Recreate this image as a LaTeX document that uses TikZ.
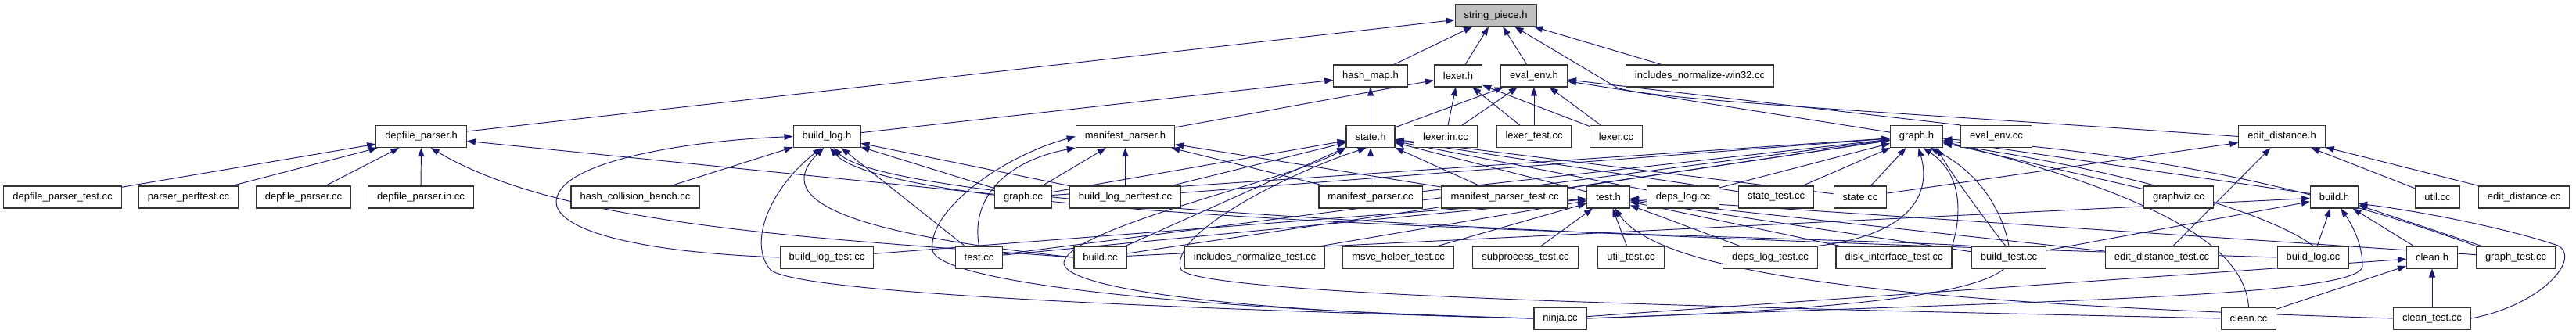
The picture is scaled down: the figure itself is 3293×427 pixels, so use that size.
\documentclass[tikz,border=0pt]{standalone}
\usepackage{fontspec}
\setmainfont{Liberation Sans}
\usetikzlibrary{arrows.meta, backgrounds}
\definecolor{incblue}{RGB}{25,25,112}
\tikzset{
  file/.style    = {rectangle, draw=black!80, line width=1.1pt, fill=white,
                    inner xsep=11.5pt, inner ysep=0pt, minimum height=28pt,
                    font=\fontsize{13}{15}\selectfont},
  rootfile/.style = {file, fill=black!25},
  inc/.style     = {-{Triangle[length=11pt,width=8pt]}, incblue, line width=0.95pt},
}

\begin{document}
\begin{tikzpicture}[x=1pt, y=-1pt]
  \useasboundingbox (0,0) rectangle (3293,427);

  \node[rootfile] (strpiece) at (1912,19.7) {string\_piece.h};

  \node[file] (hashmap)  at (1752,97) {hash\_map.h};
  \node[file] (lexerh)   at (1864,97) {lexer.h};
  \node[file] (evalenvh) at (1961,97) {eval\_env.h};
  \node[file] (incwin)   at (2173,97) {includes\_normalize-win32.cc};

  \node[file] (depparserh) at (538.5,174.5) {depfile\_parser.h};
  \node[file] (buildlogh)  at (1057,174.5)  {build\_log.h};
  \node[file] (manparserh) at (1438.5,174.5) {manifest\_parser.h};
  \node[file] (stateh)     at (1752,174.5)  {state.h};
  \node[file] (lexerin)    at (1848,174.5)  {lexer.in.cc};
  \node[file] (lexertest)  at (1961,174.5)  {lexer\_test.cc};
  \node[file] (lexercc)    at (2066,174.5)  {lexer.cc};
  \node[file] (graphh)     at (2450,174.5)  {graph.h};
  \node[file] (evalenvcc)  at (2552,174.5)  {eval\_env.cc};
  \node[file] (editdisth)  at (2917,174.5)  {edit\_distance.h};

  \node[file] (deptest)    at (80,252)    {depfile\_parser\_test.cc};
  \node[file] (parserperf) at (241,252)   {parser\_perftest.cc};
  \node[file] (depcc)      at (388,252)   {depfile\_parser.cc};
  \node[file] (depin)      at (538,252)   {depfile\_parser.in.cc};
  \node[file] (hashcoll)   at (812,252)   {hash\_collision\_bench.cc};
  \node[file] (graphcc)    at (1308,252)  {graph.cc};
  \node[file] (blperf)     at (1438.5,252) {build\_log\_perftest.cc};
  \node[file] (mancc)      at (1752,252)  {manifest\_parser.cc};
  \node[file] (mantest)    at (1923.5,252) {manifest\_parser\_test.cc};
  \node[file] (testh)      at (2056,252)  {test.h};
  \node[file] (depslogcc)  at (2151.5,252) {deps\_log.cc};
  \node[file] (statetest)  at (2270.5,252) {state\_test.cc};
  \node[file] (statecc)    at (2378,252)  {state.cc};
  \node[file] (graphviz)   at (2785,252)  {graphviz.cc};
  \node[file] (buildh)     at (2984,252)  {build.h};
  \node[file] (utilcc)     at (3116,252)  {util.cc};
  \node[file] (editdistcc) at (3226.5,252) {edit\_distance.cc};

  \node[file] (bltest)       at (1057,329)   {build\_log\_test.cc};
  \node[file] (testcc)       at (1251.5,329) {test.cc};
  \node[file] (buildcc)      at (1406.5,329) {build.cc};
  \node[file] (incnormtest)  at (1604,329)   {includes\_normalize\_test.cc};
  \node[file] (msvctest)     at (1787.5,329) {msvc\_helper\_test.cc};
  \node[file] (subproctest)  at (1950,329)   {subprocess\_test.cc};
  \node[file] (utiltest)     at (2085,329)   {util\_test.cc};
  \node[file] (depslogtest)  at (2263,329)   {deps\_log\_test.cc};
  \node[file] (disktest)     at (2421,329)   {disk\_interface\_test.cc};
  \node[file] (buildtest)    at (2568,329)   {build\_test.cc};
  \node[file] (editdisttest) at (2763.5,329) {edit\_distance\_test.cc};
  \node[file] (buildlogcc)   at (2957,329)   {build\_log.cc};
  \node[file] (cleanh)       at (3109,329)   {clean.h};
  \node[file] (graphtest)    at (3216,329)   {graph\_test.cc};

  \node[file] (ninjacc)   at (1994.5,407) {ninja.cc};
  \node[file] (cleancc)   at (2874.5,407) {clean.cc};
  \node[file] (cleantest) at (3109,407)   {clean\_test.cc};

  \begin{scope}[on background layer]
  \draw[inc] (depparserh) -- (strpiece);
  \draw[inc] (hashmap) -- (strpiece);
  \draw[inc] (lexerh) -- (strpiece);
  \draw[inc] (evalenvh) -- (strpiece);
  \draw[inc] (incwin) -- (strpiece);
  \draw[inc] (editdisth.west) .. controls (2450,145) and (2110,128) .. (2067,112) -- (strpiece);

  \draw[inc] (stateh) -- (hashmap);
  \draw[inc] (buildlogh) -- (hashmap);

  \draw[inc] (manparserh) -- (lexerh);
  \draw[inc] (lexerin) -- (lexerh);
  \draw[inc] (lexertest) -- (lexerh);
  \draw[inc] (lexercc) -- (lexerh);

  \draw[inc] (stateh) -- (evalenvh);
  \draw[inc] (lexerin) -- (evalenvh);
  \draw[inc] (lexertest) -- (evalenvh);
  \draw[inc] (lexercc) -- (evalenvh);
  \draw[inc] (graphh) -- (evalenvh);
  \draw[inc] (evalenvcc.north west) -- (evalenvh);

  \draw[inc] (deptest) -- (depparserh);
  \draw[inc] (parserperf) -- (depparserh);
  \draw[inc] (depcc) -- (depparserh);
  \draw[inc] (depin) -- (depparserh);
  \draw[inc] (graphcc) -- (depparserh);
  \draw[inc] (buildcc.west) .. controls (1050,305) and (720,290) .. (depparserh.-50);

  \draw[inc] (hashcoll) -- (buildlogh);
  \draw[inc] (blperf) -- (buildlogh);
  \draw[inc] (graphcc) -- (buildlogh);
  \draw[inc] (testcc) -- (buildlogh);
  \draw[inc] (bltest.west) .. controls (800,322) and (700,290) .. (712,252)
                           .. controls (725,205) and (880,180) .. (buildlogh.west);
  \draw[inc] (buildcc.west) .. controls (1100,300) and (980,260) .. (buildlogh.255);
  \draw[inc] (ninjacc.west) .. controls (1500,395) and (1020,375) .. (985,345)
                            .. controls (955,310) and (985,240) .. (buildlogh.245);
  \draw[inc] (buildlogcc.west) .. controls (2300,310) and (1150,275) .. (buildlogh.-60);
  \draw[inc] (buildtest.north west) .. controls (2300,300) and (1150,290) .. (buildlogh.-75);

  \draw[inc] (graphcc) -- (manparserh);
  \draw[inc] (blperf) -- (manparserh);
  \draw[inc] (mancc) -- (manparserh);
  \draw[inc] (mantest) -- (manparserh);
  \draw[inc] (testcc.north) .. controls (1240,250) and (1290,205) .. (manparserh.south west);
  \draw[inc] (ninjacc.west) .. controls (1500,395) and (1200,360) .. (1192,320)
                            .. controls (1185,270) and (1280,200) .. (manparserh.west);

  \draw[inc] (graphcc) -- (stateh);
  \draw[inc] (blperf) -- (stateh);
  \draw[inc] (mancc) -- (stateh);
  \draw[inc] (mantest) -- (stateh);
  \draw[inc] (testh) -- (stateh);
  \draw[inc] (depslogcc) -- (stateh);
  \draw[inc] (statetest) -- (stateh);
  \draw[inc] (statecc) -- (stateh);
  \draw[inc] (buildcc) -- (stateh);
  \draw[inc] (ninjacc.west) .. controls (1600,400) and (1355,370) .. (1360,335)
                            .. controls (1370,290) and (1650,230) .. (stateh.south west);
  \draw[inc] (cleancc.west) .. controls (2300,395) and (1540,380) .. (1510,345)
                            .. controls (1490,300) and (1650,220) .. (stateh.250);

  \draw[inc] (graphcc) -- (graphh);
  \draw[inc] (blperf) -- (graphh);
  \draw[inc] (mancc) -- (graphh);
  \draw[inc] (mantest) -- (graphh);
  \draw[inc] (statetest) -- (graphh);
  \draw[inc] (statecc) -- (graphh);
  \draw[inc] (depslogcc) -- (graphh);
  \draw[inc] (testcc) -- (graphh);
  \draw[inc] (buildcc) -- (graphh);
  \draw[inc] (graphviz) -- (graphh);
  \draw[inc] (buildh) -- (graphh);
  \draw[inc] (depslogtest.north east) .. controls (2440,300) and (2470,250) .. (graphh.-80);
  \draw[inc] (disktest.north east) .. controls (2500,300) and (2520,230) .. (graphh.-60);
  \draw[inc] (buildtest.north) .. controls (2560,270) and (2530,220) .. (graphh.-40);
  \draw[inc] (ninjacc.east) .. controls (2400,395) and (2620,370) .. (2560,310)
                            .. controls (2530,270) and (2500,230) .. (graphh.-30);
  \draw[inc] (buildlogcc.north) .. controls (2900,270) and (2700,215) .. (graphh.-15);
  \draw[inc] (cleancc.north) .. controls (2870,330) and (2800,260) .. (graphh.-10);
  \draw[inc] (graphtest.north west) .. controls (3000,255) and (2800,200) .. (graphh.-5);

  \draw[inc] (bltest) -- (testh);
  \draw[inc] (testcc) -- (testh);
  \draw[inc] (incnormtest) -- (testh);
  \draw[inc] (msvctest) -- (testh);
  \draw[inc] (subproctest) -- (testh);
  \draw[inc] (utiltest) -- (testh);
  \draw[inc] (depslogtest) -- (testh);
  \draw[inc] (disktest) -- (testh);
  \draw[inc] (buildtest) -- (testh);
  \draw[inc] (editdisttest) -- (testh);
  \draw[inc] (graphtest) -- (testh);
  \draw[inc] (cleantest.west) .. controls (2500,390) and (2130,360) .. (testh.-60);

  \draw[inc] (statecc) -- (editdisth);
  \draw[inc] (editdisttest) -- (editdisth);
  \draw[inc] (utilcc) -- (editdisth);
  \draw[inc] (editdistcc) -- (editdisth);

  \draw[inc] (buildcc) -- (buildh);
  \draw[inc] (buildtest) -- (buildh);
  \draw[inc] (buildlogcc) -- (buildh);
  \draw[inc] (cleanh) -- (buildh);
  \draw[inc] (graphtest) -- (buildh);
  \draw[inc] (ninjacc.east) .. controls (2600,385) and (3020,380) .. (3020,340)
                            .. controls (3020,310) and (3005,285) .. (buildh.-60);
  \draw[inc] (cleantest.east) .. controls (3250,390) and (3300,330) .. (3270,314)
                              .. controls (3200,290) and (3080,268) .. (buildh.-15);

  \draw[inc] (cleancc) -- (cleanh);
  \draw[inc] (cleantest) -- (cleanh);
  \draw[inc] (ninjacc) -- (cleanh);
  \end{scope}
\end{tikzpicture}
\end{document}
